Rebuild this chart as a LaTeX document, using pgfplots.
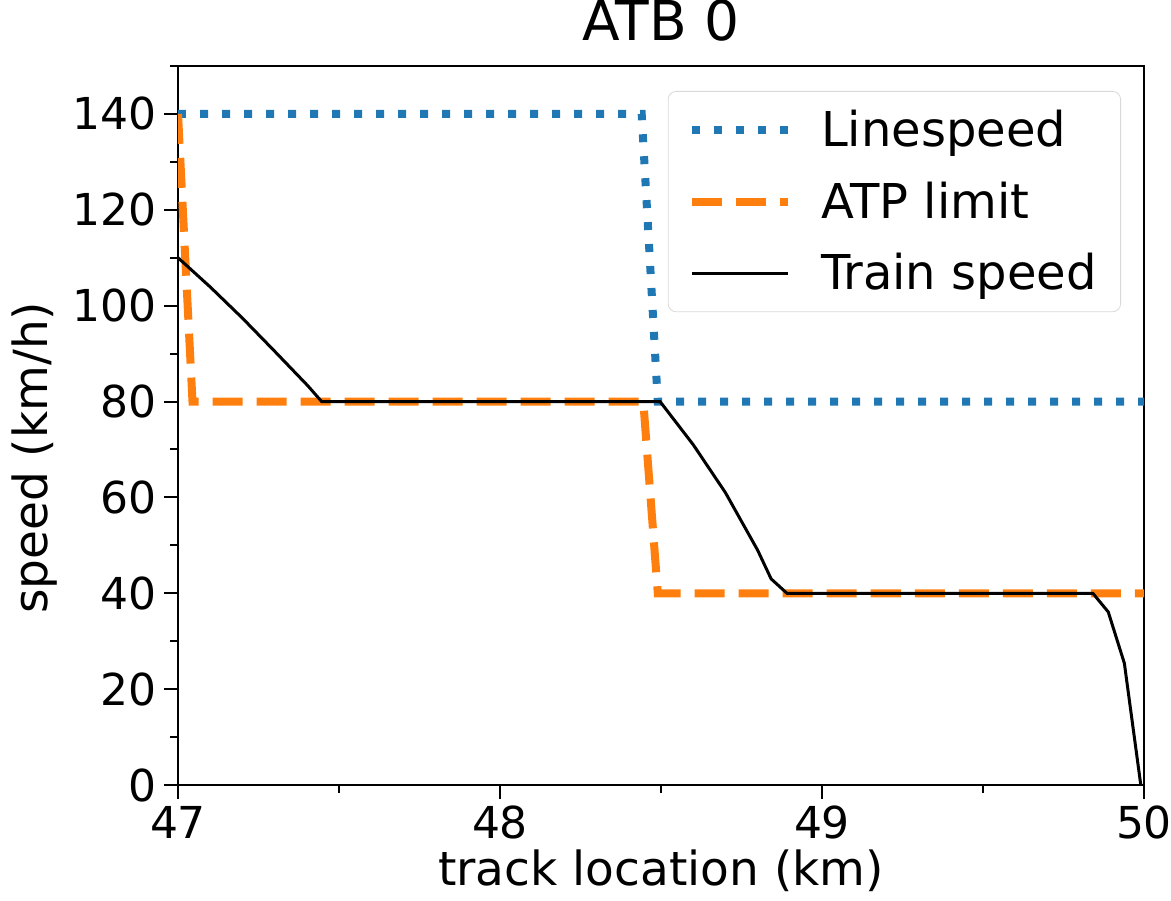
\documentclass[border=0pt]{standalone}
\usepackage{fontspec}
\setmainfont{DejaVu Sans}
\usepackage{pgfplots}
\pgfplotsset{compat=1.18}
\definecolor{mplblue}{HTML}{1F77B4}
\definecolor{mplorange}{HTML}{FF7F0E}
\begin{document}
\begin{tikzpicture}
\begin{axis}[
  width=483pt, height=359.5pt, scale only axis,
  xmin=47, xmax=50, ymin=0, ymax=150,
  xtick={47,48,49,50}, ytick={0,20,...,140},
  minor xtick={47.5,48.5,49.5}, minor ytick={10,30,...,150},
  xtick pos=bottom, ytick pos=left, tick align=outside,
  major tick length=7pt, minor tick length=4pt,
  every tick/.style={black, line width=1pt},
  axis line style={line width=1pt},
  /pgf/number format/assume math mode=true,
  tick label style={font=\fontsize{22}{26}\selectfont},
  title={ATB 0},
  title style={font=\fontsize{27.5}{32}\selectfont, at={(rel axis cs:0.5,1)}, anchor=south, yshift=3pt},
  xlabel={track location (km)},
  ylabel={speed (km/h)},
  every axis x label/.style={at={(rel axis cs:0.5,0)}, anchor=center, yshift=-43pt, font=\fontsize{23.5}{28}\selectfont},
  every axis y label/.style={at={(rel axis cs:0,0.455)}, xshift=-71.5pt, rotate=90, anchor=center, font=\fontsize{23.5}{28}\selectfont},
  legend style={at={(rel axis cs:1,1)}, anchor=north east, xshift=-11.5pt, yshift=-12.5pt,
    draw=black!15, rounded corners=4pt, font=\fontsize{24}{28.5}\selectfont,
    row sep=12pt, inner xsep=10pt, inner ysep=7.5pt},
  legend cell align=left,
  legend image code/.code={\draw[#1] (0pt,0pt) -- (48pt,0pt); \path[draw=none] (0pt,0pt) -- (62.5pt,0pt);},
]
\addplot[mplblue, line width=4pt, line cap=butt, dash pattern=on 4pt off 7pt]
  coordinates {(47,140) (48.44,140) (48.49,80) (50,80)};
\addlegendentry{Linespeed}
\addplot[mplorange, line width=4pt, line cap=butt, dash pattern=on 15pt off 7pt]
  coordinates {(47,140) (47.045,80) (48.445,80) (48.49,40) (50,40)};
\addlegendentry{ATP limit}
\addplot[black, line width=1.5pt]
  coordinates {(47,110) (47.1,103.9) (47.2,97.4) (47.3,90.5) (47.403,83.3) (47.446,80)
  (48.497,80) (48.6,71.0) (48.7,61.0) (48.8,49.0) (48.842,43.0) (48.891,40)
  (49.841,40) (49.889,36.1) (49.939,25.4) (49.99,0)};
\addlegendentry{Train speed}
\end{axis}
\pgfresetboundingbox
\path[use as bounding box] ([shift={(-89pt,-58pt)}]current axis.south west) rectangle ([shift={(13.5pt,33pt)}]current axis.north east);
\end{tikzpicture}
\end{document}
